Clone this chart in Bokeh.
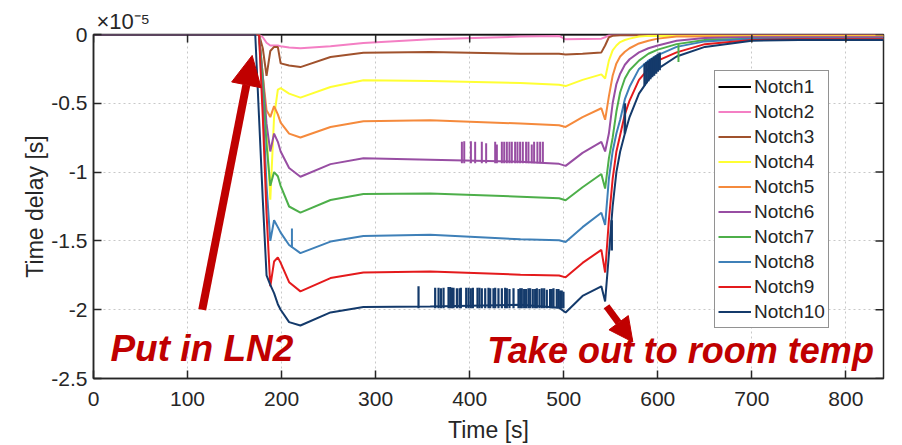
from bokeh.plotting import figure
from bokeh.models import Range1d, FixedTicker, Label, Arrow, NormalHead, Title
from bokeh.embed import file_html
from bokeh.resources import INLINE

# ---------------- data (time in s, delay in units of 1e-5 s) ----------------
t_knots = [0, 172, 176, 180, 184, 188, 192, 196, 199, 208, 220, 252, 287, 358, 454, 495,
           502, 520, 540, 544, 548, 552, 556, 560, 565, 570, 580, 590, 600, 620, 650, 700, 750, 840]

notch1 = [0, 0, 0, 0, 0, 0, 0, 0, 0, 0, 0, 0, 0, 0, 0, 0,
          0, 0, 0, 0, 0, 0, 0, 0, 0, 0, 0, 0, 0, 0, 0, 0, 0, 0]
notch2 = [0, 0, 0, -0.02, -0.06, -0.08, -0.08, -0.08, -0.085, -0.095, -0.10, -0.085, -0.062, -0.035, -0.015, -0.01,
          -0.035, -0.032, -0.03, -0.02, -0.005, 0, 0, 0, 0, 0, 0, 0, 0, 0, 0, 0, 0, 0]
notch3 = [0, 0, 0, -0.1, -0.3, -0.12, -0.09, -0.09, -0.21, -0.225, -0.237, -0.164, -0.133, -0.128, -0.14, -0.14,
          -0.145, -0.14, -0.13, -0.08, -0.02, -0.01, -0.008, -0.006, -0.005, -0.005, -0.005, -0.005, -0.005, -0.005,
          -0.005, -0.005, -0.005, -0.005]
notch4 = [0, 0, 0, -0.3, -0.7, -1.2, -0.6, -0.40, -0.39, -0.43, -0.459, -0.382, -0.333, -0.338, -0.353, -0.365,
          -0.375, -0.33, -0.29, -0.32, -0.19, -0.115, -0.08, -0.055, -0.04, -0.03, -0.015, -0.01, -0.01, -0.01,
          -0.01, -0.01, -0.01, -0.01]
notch5 = [0, 0, 0, -0.3, -0.55, -0.6, -0.52, -0.58, -0.64, -0.72, -0.749, -0.672, -0.63, -0.623, -0.647, -0.66,
          -0.672, -0.6, -0.536, -0.62, -0.45, -0.30, -0.21, -0.16, -0.125, -0.10, -0.065, -0.045, -0.03, -0.015,
          -0.015, -0.015, -0.015, -0.015]
notch6 = [0, 0, 0, -0.3, -0.65, -0.85, -0.72, -0.78, -0.85, -0.97, -1.034, -0.942, -0.90, -0.91, -0.925, -0.94,
          -0.955, -0.86, -0.78, -0.85, -0.72, -0.50, -0.36, -0.285, -0.22, -0.18, -0.13, -0.10, -0.08, -0.045,
          -0.025, -0.02, -0.02, -0.02]
notch7 = [0, 0, 0, -0.35, -0.8, -1.1, -1.0, -1.03, -1.1, -1.25, -1.295, -1.203, -1.159, -1.156, -1.179, -1.19,
          -1.205, -1.11, -1.014, -1.12, -0.90, -0.75, -0.56, -0.42, -0.32, -0.26, -0.19, -0.14, -0.11, -0.07,
          -0.04, -0.03, -0.03, -0.03]
notch8 = [0, 0, 0, -0.5, -1.1, -1.5, -1.35, -1.40, -1.44, -1.53, -1.589, -1.505, -1.464, -1.456, -1.488, -1.495,
          -1.508, -1.40, -1.295, -1.384, -1.05, -0.85, -0.72, -0.62, -0.47, -0.38, -0.25, -0.19, -0.15, -0.09,
          -0.05, -0.03, -0.03, -0.03]
notch9 = [0, 0, 0, -0.6, -1.3, -1.83, -1.65, -1.62, -1.66, -1.80, -1.867, -1.770, -1.729, -1.722, -1.746, -1.752,
          -1.765, -1.66, -1.565, -1.73, -1.35, -1.05, -0.85, -0.73, -0.58, -0.48, -0.33, -0.25, -0.19, -0.13,
          -0.07, -0.04, -0.035, -0.035]
notch10 = [0, 0, -0.6, -1.2, -1.75, -1.82, -1.88, -1.96, -2.0, -2.09, -2.115, -2.02, -1.98, -1.976, -1.964, -1.985,
           -2.02, -1.90, -1.83, -1.94, -1.6, -1.25, -1.0, -0.85, -0.72, -0.60, -0.43, -0.33, -0.25, -0.16,
           -0.09, -0.045, -0.04, -0.04]

series = [notch1, notch2, notch3, notch4, notch5, notch6, notch7, notch8, notch9, notch10]
names = ["Notch1", "Notch2", "Notch3", "Notch4", "Notch5", "Notch6", "Notch7", "Notch8", "Notch9", "Notch10"]
colors = ["#000000", "#F47FC4", "#A0522D", "#FFFF33", "#F58A3C", "#984EA3", "#4DAF4A", "#3F80B8", "#E41A1C", "#143A6B"]

# noise spikes (data glitches)
purple_spike_t = [391.7, 394.2, 401.3, 405.8, 412.9, 417.5, 427.1, 428.9, 434.2, 436.7, 439.5, 442.3,
                  444.8, 448.3, 450.8, 453.6, 456.5, 460.0, 462.5, 466.0, 468.5, 472.0, 474.9, 477.8]
purple_spike_top = [-0.78, -0.775, -0.775, -0.78, -0.78, -0.79, -0.78, -0.80, -0.78, -0.78, -0.78, -0.78,
                    -0.78, -0.78, -0.78, -0.78, -0.78, -0.78, -0.78, -0.80, -0.78, -0.78, -0.78, -0.78]
purple_spike_base = -0.935

navy_spike_t = [345.6, 363.3, 366.9, 369.4, 372.2, 377.5, 379.3, 381.1, 382.8, 386.4, 389.2, 390.6, 396.3,
                398.8, 401.2, 403.4, 408.3, 410.4, 412.9, 416.5, 420.0, 421.8, 425.3, 427.1, 430.6, 434.2,
                437.7, 439.5, 442.3, 446.6, 451.9, 453.7, 455.4, 457.9, 460.0, 462.5, 464.3, 467.1, 469.6,
                471.4, 474.2, 476.7, 479.2, 482.0, 485.5, 487.3, 489.1, 492.6, 494.4, 496.2, 497.9, 499.7]
navy_spike_top = [-1.83, -1.84, -1.84, -1.845, -1.84, -1.835, -1.835, -1.84, -1.84, -1.845, -1.845, -1.84, -1.84,
                  -1.84, -1.845, -1.84, -1.84, -1.84, -1.845, -1.845, -1.84, -1.845, -1.845, -1.84, -1.845, -1.845,
                  -1.84, -1.845, -1.85, -1.845, -1.85, -1.845, -1.845, -1.85, -1.85, -1.845, -1.845, -1.85, -1.85,
                  -1.845, -1.85, -1.845, -1.845, -1.855, -1.85, -1.85, -1.845, -1.85, -1.85, -1.86, -1.86, -1.87]
navy_spike_base = -1.99

navy_rec_t = [551, 565, 586, 588, 590, 592, 594, 596, 598, 600, 602]
navy_rec_y0 = [-1.57, -0.72, -0.37, -0.355, -0.34, -0.325, -0.31, -0.30, -0.285, -0.27, -0.26]
navy_rec_y1 = [-1.35, -0.50, -0.21, -0.20, -0.19, -0.18, -0.17, -0.16, -0.15, -0.14, -0.13]

blue_spike = (211, -1.55, -1.41)
green_spike = (622, -0.07, -0.20)

x_ticks = [0, 100, 200, 300, 400, 500, 600, 700, 800]
y_ticks = [0, -0.5, -1, -1.5, -2, -2.5]
y_tick_labels = ["0", "-0.5", "-1", "-1.5", "-2", "-2.5"]
X_MIN, X_MAX = 0, 840
Y_MIN, Y_MAX = -2.5, 0

# ---------------- figure ----------------
AX = "#262626"
FONT = "Liberation Sans"
RED = "#C00000"
FRAME_W, FRAME_H = 790, 345
TICK_PX = 8

p = figure(width=902, height=445, output_backend="svg", toolbar_location=None,
           x_range=Range1d(X_MIN, X_MAX), y_range=Range1d(Y_MIN, Y_MAX),
           min_border_left=93, min_border_right=19, min_border_top=34, min_border_bottom=66)
p.title = Title(text="\u00d710\u207b\u2075", align="left", offset=3, text_font=FONT,
                text_font_size="22px", text_font_style="normal", text_color=AX, standoff=2)
p.background_fill_color = "white"
p.border_fill_color = "white"
p.outline_line_color = AX
p.outline_line_width = 1.5

for ax in (p.xaxis[0], p.yaxis[0]):
    ax.axis_line_color = AX
    ax.axis_line_width = 1.5
    ax.major_tick_line_color = AX
    ax.major_tick_line_width = 1.5
    ax.major_tick_in = TICK_PX
    ax.major_tick_out = 0
    ax.minor_tick_line_color = None
    ax.major_label_text_font = FONT
    ax.major_label_text_font_size = "21px"
    ax.major_label_text_color = AX
    ax.axis_label_text_font = FONT
    ax.axis_label_text_font_size = "23px"
    ax.axis_label_text_font_style = "normal"
    ax.axis_label_text_color = AX

p.xaxis[0].ticker = FixedTicker(ticks=x_ticks)
p.yaxis[0].ticker = FixedTicker(ticks=y_ticks)
p.yaxis[0].major_label_overrides = {t: s for t, s in zip(y_ticks, y_tick_labels)}
p.xaxis[0].axis_label = "Time [s]"
p.yaxis[0].axis_label = "Time delay [s]"
p.xaxis[0].major_label_standoff = 13
p.xaxis[0].axis_label_standoff = 8
p.yaxis[0].major_label_standoff = 6
p.yaxis[0].axis_label_standoff = 0

p.xgrid.ticker = FixedTicker(ticks=x_ticks)
p.ygrid.ticker = FixedTicker(ticks=y_ticks)
for g in (p.xgrid, p.ygrid):
    g.grid_line_color = "#c8c8c8"
    g.grid_line_dash = "2 3"
    g.grid_line_width = 1

# ---------------- lines ----------------
for vals, name, col in zip(series, names, colors):
    p.line(t_knots, vals, line_color=col, line_width=2, legend_label=name)

p.segment(x0=purple_spike_t, y0=[purple_spike_base] * len(purple_spike_t),
          x1=purple_spike_t, y1=purple_spike_top, line_color=colors[5], line_width=2)
p.segment(x0=navy_spike_t, y0=[navy_spike_base] * len(navy_spike_t),
          x1=navy_spike_t, y1=navy_spike_top, line_color=colors[9], line_width=2.2)
p.segment(x0=navy_rec_t, y0=navy_rec_y0, x1=navy_rec_t, y1=navy_rec_y1,
          line_color=colors[9], line_width=2.5)
p.segment(x0=[blue_spike[0]], y0=[blue_spike[1]], x1=[blue_spike[0]], y1=[blue_spike[2]],
          line_color=colors[7], line_width=2)
p.segment(x0=[green_spike[0]], y0=[green_spike[1]], x1=[green_spike[0]], y1=[green_spike[2]],
          line_color=colors[6], line_width=2)

# inward ticks on the top and right edges of the box
tick_dy = TICK_PX * (Y_MAX - Y_MIN) / FRAME_H
tick_dx = TICK_PX * (X_MAX - X_MIN) / FRAME_W
p.segment(x0=x_ticks, y0=[Y_MAX] * len(x_ticks), x1=x_ticks, y1=[Y_MAX - tick_dy] * len(x_ticks),
          line_color=AX, line_width=1.5)
p.segment(x0=[X_MAX] * len(y_ticks), y0=y_ticks, x1=[X_MAX - tick_dx] * len(y_ticks), y1=y_ticks,
          line_color=AX, line_width=1.5)

# ---------------- legend ----------------
lg = p.legend[0]
lg.location = (621, 50)
lg.label_text_font = FONT
lg.label_text_font_size = "19px"
lg.label_text_color = AX
lg.glyph_width = 33
lg.glyph_height = 25
lg.label_height = 25
lg.label_standoff = 3
lg.spacing = 0
lg.padding = 3
lg.margin = 0
lg.border_line_color = AX
lg.border_line_width = 1.5
lg.background_fill_color = "white"
lg.background_fill_alpha = 1.0

# ---------------- annotations ----------------
p.add_layout(Arrow(end=NormalHead(size=30, fill_color=RED, line_color=RED),
                   x_start=115.6, y_start=-2.0, x_end=168.7, y_end=-0.152,
                   line_color=RED, line_width=8))
p.add_layout(Arrow(end=NormalHead(size=24, fill_color=RED, line_color=RED),
                   x_start=545.5, y_start=-1.975, x_end=573.5, y_end=-2.235,
                   line_color=RED, line_width=7))

p.add_layout(Label(x=18, y=-2.282, text="Put in LN2", text_font=FONT, text_font_size="37px",
                   text_font_style="bold italic", text_color=RED, text_baseline="alphabetic"))
p.add_layout(Label(x=418.6, y=-2.297, text="Take out to room temp", text_font=FONT, text_font_size="36px",
                   text_font_style="bold italic", text_color=RED, text_baseline="alphabetic"))

open("out.html", "w").write(file_html(p, INLINE))
